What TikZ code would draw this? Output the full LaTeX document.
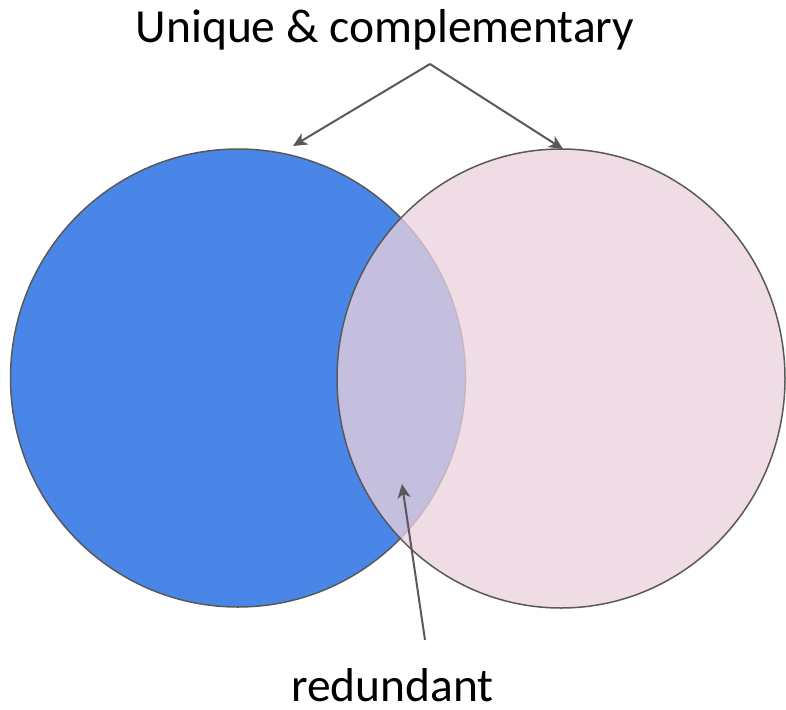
\documentclass[tikz,border=0pt]{standalone}
\usepackage{fontspec}
\setmainfont{Carlito}
\usetikzlibrary{arrows.meta}
\definecolor{setblue}{HTML}{4A86E8}
\definecolor{setpink}{HTML}{EAD1DC}
\definecolor{edgegray}{HTML}{595959}
\tikzset{
  setline/.style={draw=edgegray, line width=1.5pt},
  pointer/.style={draw=edgegray, line width=2pt,
    -{Stealth[length=14pt, width=13pt, inset=4pt]}},
  caption/.style={font=\fontsize{47.5}{52}\selectfont, text=black, inner sep=0pt, anchor=base}
}
\begin{document}
\begin{tikzpicture}[x=1pt, y=-1pt]
  \useasboundingbox (0,0) rectangle (786,709);
  % the two sets
  \fill[setblue] (238,378) ellipse [x radius=227.5, y radius=229];
  \draw[setline] (238,378) ellipse [x radius=227.5, y radius=229];
  \fill[setpink, fill opacity=0.77] (561,378.5) ellipse [x radius=224, y radius=229.5];
  \draw[setline] (561,378.5) ellipse [x radius=224, y radius=229.5];
  % labels
  \node[caption] (top) at (385,43) {Unique \& complementary};
  \node[caption] (bottom) at (392.5,701) {redundant};
  % connectors
  \coordinate (apex) at (430,64);
  \coordinate (lefttop) at (293,146);
  \coordinate (righttop) at (563,149);
  \coordinate (tail) at (425,640);
  \coordinate (overlap) at (402,484);
  \draw[pointer] (apex) -- (lefttop);
  \draw[pointer] (apex) -- (righttop);
  \draw[pointer] (tail) -- (overlap);
\end{tikzpicture}
\end{document}
